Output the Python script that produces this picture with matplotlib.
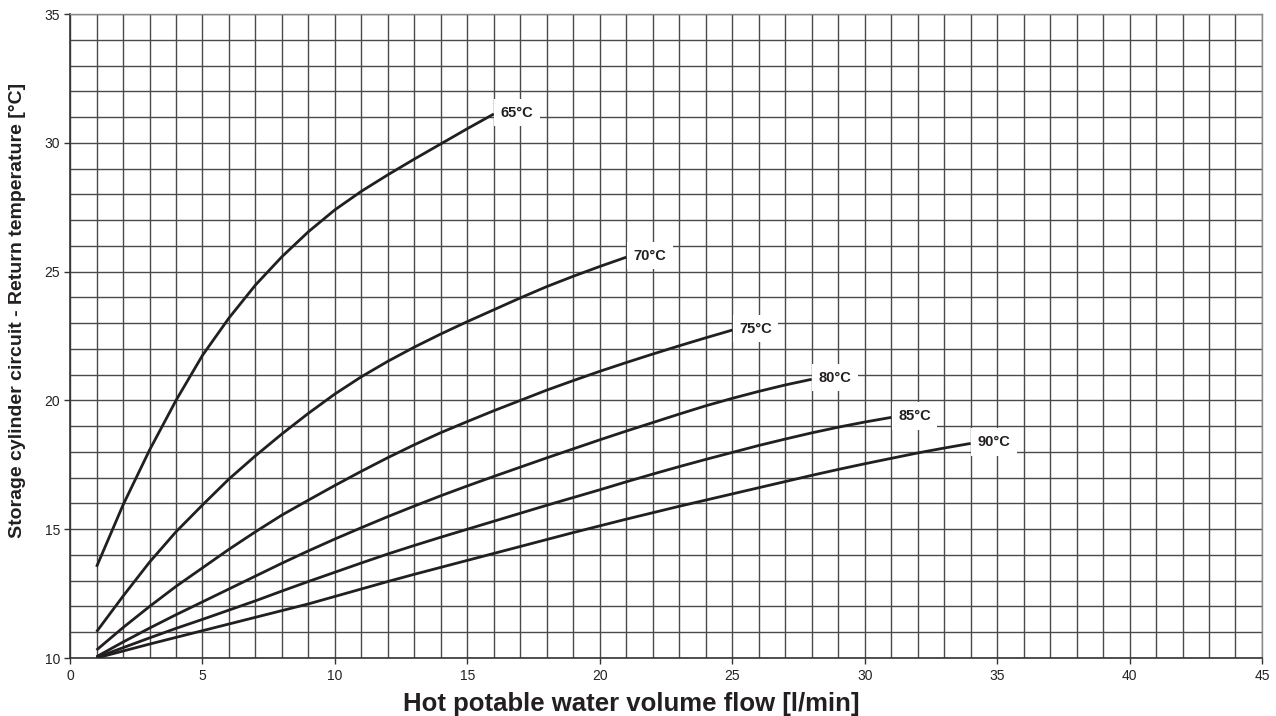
import matplotlib
matplotlib.use("Agg")
import matplotlib.pyplot as plt
import numpy as np

plt.rcParams['font.family'] = ['Liberation Sans', 'DejaVu Sans']

# Data
flow_65 = list(range(1, 17))
temp_65 = [13.54, 15.94, 18.07, 20.0, 21.75, 23.2, 24.48, 25.58, 26.55, 27.4,
           28.12, 28.76, 29.37, 29.96, 30.55, 31.12]

flow_70 = list(range(1, 22))
temp_70 = [11.02, 12.4, 13.72, 14.9, 15.94, 16.95, 17.85, 18.7, 19.5, 20.25,
           20.92, 21.52, 22.07, 22.58, 23.06, 23.52, 23.98, 24.42, 24.82, 25.2, 25.56]

flow_75 = list(range(1, 26))
temp_75 = [10.31, 11.18, 12.0, 12.78, 13.5, 14.22, 14.9, 15.55, 16.13, 16.7,
           17.25, 17.78, 18.28, 18.75, 19.18, 19.6, 20.0, 20.4, 20.77, 21.13,
           21.47, 21.8, 22.12, 22.43, 22.73]

flow_80 = list(range(1, 29))
temp_80 = [10.05, 10.62, 11.16, 11.68, 12.18, 12.68, 13.18, 13.68, 14.16, 14.62,
           15.06, 15.49, 15.9, 16.3, 16.68, 17.05, 17.41, 17.77, 18.12, 18.47,
           18.81, 19.14, 19.47, 19.79, 20.08, 20.35, 20.6, 20.82]

flow_85 = list(range(1, 32))
temp_85 = [10.02, 10.4, 10.78, 11.15, 11.5, 11.86, 12.22, 12.6, 12.97, 13.33,
           13.69, 14.04, 14.37, 14.69, 15.0, 15.31, 15.62, 15.93, 16.23, 16.53,
           16.84, 17.14, 17.43, 17.71, 17.98, 18.25, 18.5, 18.74, 18.96, 19.16, 19.34]

flow_90 = list(range(1, 35))
temp_90 = [10.0, 10.27, 10.54, 10.8, 11.06, 11.32, 11.58, 11.84, 12.1, 12.39,
           12.68, 12.97, 13.25, 13.52, 13.79, 14.06, 14.33, 14.6, 14.87, 15.13,
           15.39, 15.64, 15.89, 16.13, 16.37, 16.61, 16.85, 17.09, 17.32, 17.54,
           17.75, 17.96, 18.15, 18.33]

series_labels = ['65°C', '70°C', '75°C', '80°C', '85°C', '90°C']
series_x = [flow_65, flow_70, flow_75, flow_80, flow_85, flow_90]
series_y = [temp_65, temp_70, temp_75, temp_80, temp_85, temp_90]

x_ticks = [0, 5, 10, 15, 20, 25, 30, 35, 40, 45]
y_ticks = [10, 15, 20, 25, 30, 35]

fig = plt.figure(figsize=(12.76, 7.16), dpi=100)
ax = fig.add_axes([0.0549, 0.081, 0.9341, 0.8994])

ax.set_xlim(0, 45)
ax.set_ylim(10, 35)

# grid every 1 unit
ax.set_xticks(np.arange(0, 46, 1), minor=True)
ax.set_yticks(np.arange(10, 36, 1), minor=True)
ax.set_xticks(x_ticks)
ax.set_yticks(y_ticks)
ax.grid(which='both', color='#4a4a4a', linewidth=1.0, zorder=0)
ax.set_axisbelow(True)

ax.tick_params(which='minor', length=0)
ax.tick_params(which='major', direction='out', length=4, width=1, color='#333333',
               labelsize=10, labelcolor='#222222', pad=3)
ax.tick_params(axis='x', pad=4)

for side in ['top', 'right']:
    ax.spines[side].set_color('#888888')
    ax.spines[side].set_linewidth(1.0)
for side in ['left', 'bottom']:
    ax.spines[side].set_color('#333333')
    ax.spines[side].set_linewidth(1.2)

for xs, ys, lab in zip(series_x, series_y, series_labels):
    ax.plot(xs, ys, color='#231f20', linewidth=2.0, solid_capstyle='butt',
            solid_joinstyle='round', zorder=3)
    ax.annotate(lab, xy=(xs[-1], ys[-1]), xytext=(5, 1), textcoords='offset points',
                ha='left', va='center', fontsize=10.5, fontweight='bold', color='#231f20',
                bbox=dict(boxstyle='square,pad=0.45', fc='white', ec='none'), zorder=4)

fig.text(0.4945, 0.0075, 'Hot potable water volume flow [l/min]', fontsize=18.5,
         fontweight='bold', color='#231f20', ha='center', va='baseline')
fig.text(0.0141, 0.567, 'Storage cylinder circuit - Return temperature [°C]', fontsize=14,
         fontweight='bold', color='#231f20', ha='center', va='center', rotation=90)

fig.savefig('out.png', dpi=100)
